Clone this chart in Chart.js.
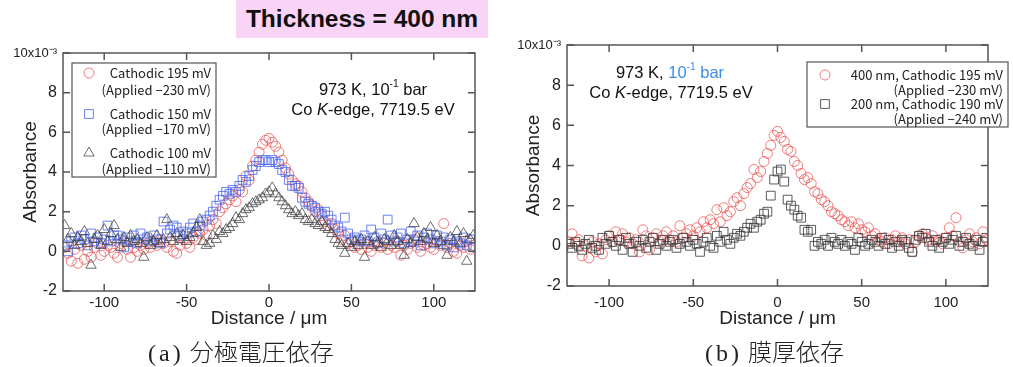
<!DOCTYPE html>
<html>
<head>
<meta charset="utf-8">
<script src="https://cdn.jsdelivr.net/npm/chart.js@4.4.1/dist/chart.umd.min.js"></script>
<style>
  body { margin: 0; background: #fff; width: 1013px; height: 367px; position: relative; overflow: hidden;
         font-family: 'Liberation Sans', Arial, sans-serif; }
  #title { position: absolute; left: 236px; top: 0; width: 252px; height: 38px; background: #fad4f6;
           font-weight: bold; font-size: 24.5px; line-height: 38px; text-align: center; color: #111; }
  .cap { position: absolute; top: 333px; font-family: 'Noto Sans CJK JP'; font-weight: 300; font-size: 24px;
         line-height: 36px; color: #222; white-space: nowrap; }
  .cap span { font-family: 'Liberation Serif', serif; letter-spacing: 3px; margin-right: 6px; }
  #ca { position: absolute; left: 0; top: 0; }
  #cb { position: absolute; left: 500px; top: 0; }
</style>
</head>
<body>
<div id="title">Thickness = 400 nm</div>
<canvas id="ca" width="500" height="367"></canvas>
<canvas id="cb" width="513" height="367"></canvas>
<div class="cap" style="left:148px"><span>(a)</span>分極電圧依存</div>
<div class="cap" style="left:705px"><span>(b)</span>膜厚依存</div>
<script>
// distance in µm (same for every series)
const distance = [
  -124,-122,-120,-118,-116,-114,-112,-110,-108,-106,
  -104,-102,-100,-98,-96,-94,-92,-90,-88,-86,
  -84,-82,-80,-78,-76,-74,-72,-70,-68,-66,
  -64,-62,-60,-58,-56,-54,-52,-50,-48,-46,
  -44,-42,-40,-38,-36,-34,-32,-30,-28,-26,
  -24,-22,-20,-18,-16,-14,-12,-10,-8,-6,
  -4,-2,0,2,4,6,8,10,12,14,
  16,18,20,22,24,26,28,30,32,34,
  36,38,40,42,44,46,48,50,52,54,
  56,58,60,62,64,66,68,70,72,74,
  76,78,80,82,84,86,88,90,92,94,
  96,98,100,102,104,106,108,110,112,114,
  116,118,120,122,124
];
const xTicks = [-100, -50, 0, 50, 100];
const yTicks = [-2, 0, 2, 4, 6, 8, 10];

// (a) absorbance x10^-3
const cath195 = [
  0.2,-0.1,-0.5,0.1,-0.6,0.3,-0.4,0.0,-0.3,0.2,
  0.4,-0.2,0.0,0.3,0.2,-0.1,-0.3,0.4,0.5,0.1,
  -0.3,0.2,0.0,0.3,0.1,0.4,0.2,0.5,0.3,0.6,
  0.4,0.2,0.5,0.0,-0.1,0.3,0.6,0.4,0.2,0.7,
  0.6,0.9,1.1,0.8,1.3,1.6,1.4,2.0,2.2,2.4,
  2.6,2.8,2.5,3.1,3.0,3.8,3.6,4.3,4.6,5.0,
  5.4,5.6,5.7,5.5,5.3,5.0,4.6,4.2,3.9,3.6,
  3.4,3.3,3.0,2.7,2.5,2.3,2.0,2.1,1.8,1.5,
  1.3,1.4,1.1,0.9,0.6,0.8,0.4,0.5,0.2,0.3,
  0.1,0.4,0.2,0.0,0.3,0.5,0.2,0.4,0.1,0.3,
  0.2,0.5,-0.2,0.3,0.1,0.4,0.6,0.2,0.0,0.3,
  0.4,0.2,0.1,0.5,0.3,1.4,0.2,0.4,0.0,-0.1,
  0.3,0.2,0.5,0.1,0.3
];
const cath150 = [
  0.3,0.0,0.5,0.7,0.4,0.8,0.6,0.3,0.9,0.5,
  0.7,0.4,0.6,1.3,0.5,0.8,0.8,0.6,0.2,0.7,
  0.5,0.8,0.4,0.9,0.6,0.7,0.5,0.8,0.6,0.4,
  1.5,0.9,1.1,1.3,1.2,0.8,1.0,0.9,1.2,1.4,
  1.0,1.3,1.5,1.6,1.8,2.0,2.3,2.6,2.8,3.0,
  2.9,3.1,3.0,3.3,3.6,3.5,3.8,4.1,4.3,4.5,
  4.6,4.6,4.5,4.6,4.5,4.4,4.1,4.0,3.6,3.3,
  3.3,3.2,2.7,2.5,2.4,2.3,2.2,2.0,1.9,2.0,
  1.8,1.6,1.3,1.2,1.0,1.7,0.9,0.6,0.7,0.5,
  0.6,0.8,0.5,1.1,0.7,0.4,0.9,0.6,1.6,0.8,
  0.5,0.7,0.9,0.4,0.6,1.0,0.5,0.8,0.3,0.7,
  0.9,0.6,0.4,0.8,0.5,0.7,0.3,0.6,0.2,0.5,
  0.4,0.7,0.3,0.6,0.2
];
const cath100 = [
  1.3,0.6,0.9,0.3,0.7,0.5,1.0,0.4,-0.7,0.6,
  0.8,0.3,1.1,0.5,0.9,1.3,0.6,0.2,0.7,0.4,
  0.8,0.5,0.6,0.4,-0.3,0.7,0.3,0.5,0.8,0.4,
  0.6,1.6,0.7,0.5,0.9,0.6,0.8,0.5,0.7,0.9,
  1.2,1.6,0.5,0.3,0.4,0.8,0.6,1.0,0.9,1.1,
  1.2,1.4,1.7,1.6,1.9,2.1,2.2,2.4,2.5,2.6,
  2.7,2.9,3.0,3.2,2.9,2.7,2.5,2.3,2.1,1.9,
  2.0,1.8,1.9,1.6,1.5,1.6,1.4,1.3,1.5,1.2,
  1.1,0.9,0.6,0.4,0.3,-0.1,0.4,0.2,0.5,0.3,
  0.6,-0.3,0.5,0.3,0.7,0.4,0.2,0.6,0.5,0.3,
  0.8,0.5,0.3,-0.2,0.6,0.4,1.4,0.7,0.5,0.9,
  0.6,1.2,0.4,0.8,0.5,0.3,-0.2,0.7,0.5,1.0,
  0.4,0.9,-0.5,0.6,0.8
];

// (b) absorbance x10^-3
const film400 = [
  0.2,0.6,0.1,0.3,-0.5,0.0,-0.6,0.2,-0.3,0.1,
  -0.4,0.3,0.5,0.2,0.7,0.3,0.6,0.2,0.4,0.1,
  0.3,-0.3,0.8,0.5,-0.2,0.4,0.6,0.2,0.5,0.7,
  0.3,0.5,0.2,1.0,0.4,0.6,0.8,0.5,0.9,0.7,
  1.2,0.9,1.3,1.1,1.8,1.2,1.9,1.5,1.7,2.2,
  2.4,2.0,2.6,2.9,3.1,3.8,3.4,3.7,4.2,4.6,
  5.0,5.5,5.7,5.4,5.2,4.8,4.7,4.2,4.0,3.6,
  3.3,3.4,3.1,2.7,2.6,2.3,2.2,2.0,1.7,1.6,
  1.5,1.3,1.2,1.0,1.2,0.9,1.1,0.8,0.7,0.9,
  0.5,0.6,0.3,0.2,0.4,0.1,0.3,0.5,0.2,0.4,
  0.1,0.3,-0.3,0.2,0.5,0.6,0.4,0.3,0.5,0.2,
  0.3,0.1,0.4,0.9,0.5,1.4,0.2,-0.1,0.3,0.6,
  0.2,0.4,0.1,0.7,0.3
];
const film200 = [
  0.1,-0.1,0.2,0.0,-0.2,0.1,0.3,-0.1,0.0,-0.2,
  0.4,0.1,0.5,0.2,0.0,0.3,-0.2,0.4,0.1,-0.3,
  0.2,0.0,0.3,-0.1,0.2,0.4,-0.2,0.1,0.3,0.0,
  0.2,0.3,-0.1,0.1,0.4,0.2,0.0,0.3,0.1,-0.3,
  0.2,0.4,0.0,-0.1,0.5,0.2,0.7,0.3,0.1,0.4,
  0.6,0.5,0.7,0.9,1.1,0.9,1.2,1.3,1.6,1.7,
  2.5,3.3,3.7,3.8,3.2,2.3,2.0,1.8,1.5,1.4,
  0.8,0.7,0.8,0.0,0.2,0.1,0.3,0.0,0.4,0.2,
  0.1,0.3,0.0,0.2,0.1,-0.2,0.4,0.2,0.0,0.1,
  0.3,0.2,0.0,0.4,0.1,0.3,-0.1,0.2,0.0,0.3,
  0.2,-0.1,-0.3,0.3,0.5,0.4,0.6,0.2,0.0,0.3,
  -0.1,0.2,0.4,0.1,0.3,0.5,0.0,0.2,0.4,0.1,
  0.0,0.3,-0.2,0.2,0.4
];

Chart.defaults.font.family = "'Liberation Sans', Arial, sans-serif";
Chart.defaults.color = '#222';

function points(vals) {
  return distance.map((x, i) => ({ x: x, y: vals[i] }));
}

function drawMarker(ctx, style, r, x, y, color) {
  ctx.save();
  ctx.strokeStyle = color;
  ctx.lineWidth = 1;
  ctx.beginPath();
  if (style === 'circle') {
    ctx.arc(x, y, r, 0, Math.PI * 2);
  } else if (style === 'rect') {
    const s = r * Math.SQRT1_2;
    ctx.rect(x - s, y - s, 2 * s, 2 * s);
  } else {
    ctx.moveTo(x, y - r);
    ctx.lineTo(x + r * 0.866, y + r * 0.5);
    ctx.lineTo(x - r * 0.866, y + r * 0.5);
    ctx.closePath();
  }
  ctx.stroke();
  ctx.restore();
}

// frame + inward ticks on all four sides
const framePlugin = {
  id: 'frame',
  afterDatasetsDraw(chart) {
    const a = chart.chartArea, ctx = chart.ctx;
    const xs = chart.scales.x, ys = chart.scales.y;
    ctx.save();
    ctx.strokeStyle = '#555';
    ctx.lineWidth = 1.5;
    ctx.strokeRect(a.left, a.top, a.right - a.left, a.bottom - a.top);
    ctx.beginPath();
    xTicks.forEach(v => {
      const px = xs.getPixelForValue(v);
      ctx.moveTo(px, a.bottom); ctx.lineTo(px, a.bottom - 7);
      ctx.moveTo(px, a.top); ctx.lineTo(px, a.top + 7);
    });
    yTicks.forEach(v => {
      const py = ys.getPixelForValue(v);
      ctx.moveTo(a.left, py); ctx.lineTo(a.left + 7, py);
      ctx.moveTo(a.right, py); ctx.lineTo(a.right - 7, py);
    });
    ctx.stroke();
    ctx.restore();
  }
};

function drawRuns(ctx, cx, cy, runs, size) {
  const fontOf = r => (r.italic ? 'italic ' : '') + (r.sup ? size * 0.62 : size) + "px 'Liberation Sans', Arial";
  let total = 0;
  runs.forEach(r => { ctx.font = fontOf(r); total += ctx.measureText(r.t).width; });
  let x = cx - total / 2;
  runs.forEach(r => {
    ctx.font = fontOf(r);
    ctx.fillStyle = r.color || '#111';
    ctx.fillText(r.t, x, r.sup ? cy - size * 0.38 : cy);
    x += ctx.measureText(r.t).width;
  });
}

// legend box and condition notes
const notePlugin = {
  id: 'notes',
  afterDraw(chart, args, o) {
    const a = chart.chartArea, ctx = chart.ctx;
    ctx.save();
    ctx.textBaseline = 'middle';
    ctx.textAlign = 'left';
    o.lines.forEach(l => drawRuns(ctx, a.left + l.x, a.top + l.y, l.runs, o.size));
    const b = o.box;
    ctx.fillStyle = '#fff';
    ctx.fillRect(a.left + b.x, a.top + b.y, b.w, b.h);
    ctx.strokeStyle = '#555';
    ctx.lineWidth = 1.2;
    ctx.strokeRect(a.left + b.x, a.top + b.y, b.w, b.h);
    ctx.font = "13px 'Noto Sans CJK JP'";
    ctx.textAlign = 'right';
    ctx.fillStyle = '#222';
    b.rows.forEach(r => {
      ctx.fillText(r.text, a.left + b.textX, a.top + r.y);
      if (r.ds != null) {
        const ds = chart.data.datasets[r.ds];
        drawMarker(ctx, ds.pointStyle, ds.pointRadius, a.left + b.markX, a.top + r.y, ds.borderColor);
      }
    });
    ctx.restore();
  }
};

function makeChart(id, datasets, lay, notes) {
  return new Chart(document.getElementById(id), {
    type: 'scatter',
    data: { datasets: datasets },
    options: {
      responsive: false,
      animation: false,
      devicePixelRatio: 1,
      layout: { padding: { left: 0, top: lay.top, right: lay.right, bottom: lay.bottom } },
      plugins: { legend: { display: false }, tooltip: { enabled: false }, notes: notes },
      scales: {
        x: {
          type: 'linear', min: -125, max: 125,
          afterBuildTicks: s => { s.ticks = xTicks.map(v => ({ value: v })); },
          afterFit: s => { s.height = lay.xh; },
          grid: { display: false, drawTicks: false },
          border: { display: false },
          ticks: { padding: lay.xpad, color: '#222', font: { size: 15 } },
          title: { display: true, text: 'Distance / μm', color: '#222', font: { size: 19 }, padding: { top: 0, bottom: 0 } }
        },
        y: {
          type: 'linear', min: -2, max: 10,
          afterBuildTicks: s => { s.ticks = yTicks.map(v => ({ value: v })); },
          afterFit: s => { s.width = lay.yw; },
          grid: { display: false, drawTicks: false },
          border: { display: false },
          ticks: {
            padding: 6, color: '#222',
            font: c => ({ size: c.tick && c.tick.value === 10 ? 13 : 16 }),
            callback: v => v === 10 ? '10x10⁻³' : v
          },
          title: { display: true, text: 'Absorbance', color: '#222', font: { size: 19 }, padding: { top: lay.ytp, bottom: 0 } }
        }
      }
    },
    plugins: [framePlugin, notePlugin]
  });
}

const red = 'rgba(236,80,80,0.75)';

makeChart('ca', [
  { label: 'Cathodic 100 mV', data: points(cath100), pointStyle: 'triangle', pointRadius: 6,
    borderColor: 'rgba(60,60,60,0.75)', backgroundColor: 'transparent', borderWidth: 1 },
  { label: 'Cathodic 150 mV', data: points(cath150), pointStyle: 'rect', pointRadius: 6.2,
    borderColor: 'rgba(70,100,235,0.8)', backgroundColor: 'transparent', borderWidth: 1 },
  { label: 'Cathodic 195 mV', data: points(cath195), pointStyle: 'circle', pointRadius: 5,
    borderColor: red, backgroundColor: 'transparent', borderWidth: 1 }
], { top: 53, right: 25, bottom: 37, xh: 39, yw: 63, xpad: 3, ytp: 19 }, {
  size: 16.5,
  lines: [
    { x: 310, y: 37, runs: [{ t: '973 K, 10' }, { t: '-1', sup: true }, { t: ' bar' }] },
    { x: 310, y: 57, runs: [{ t: 'Co ' }, { t: 'K', italic: true }, { t: '-edge, 7719.5 eV' }] }
  ],
  box: {
    x: 9, y: 10, w: 144, h: 114, textX: 148, markX: 26,
    rows: [
      { text: 'Cathodic 195 mV', y: 20, ds: 2 },
      { text: '(Applied −230 mV)', y: 37 },
      { text: 'Cathodic 150 mV', y: 61, ds: 1 },
      { text: '(Applied −170 mV)', y: 76 },
      { text: 'Cathodic 100 mV', y: 100, ds: 0 },
      { text: '(Applied −110 mV)', y: 116 }
    ]
  }
});

makeChart('cb', [
  { label: '200 nm, Cathodic 190 mV', data: points(film200), pointStyle: 'rect', pointRadius: 6.2,
    borderColor: 'rgba(50,50,50,0.8)', backgroundColor: 'transparent', borderWidth: 1 },
  { label: '400 nm, Cathodic 195 mV', data: points(film400), pointStyle: 'circle', pointRadius: 5,
    borderColor: red, backgroundColor: 'transparent', borderWidth: 1 }
], { top: 45, right: 25, bottom: 37, xh: 44, yw: 67, xpad: 8, ytp: 22 }, {
  size: 16.5,
  lines: [
    { x: 103, y: 28, runs: [{ t: '973 K, ' }, { t: '10', color: '#3a8ee6' }, { t: '-1', sup: true, color: '#3a8ee6' }, { t: ' bar', color: '#3a8ee6' }] },
    { x: 104, y: 48, runs: [{ t: 'Co ' }, { t: 'K', italic: true }, { t: '-edge, 7719.5 eV' }] }
  ],
  box: {
    x: 240, y: 17, w: 201, h: 65, textX: 436, markX: 258,
    rows: [
      { text: '400 nm, Cathodic 195 mV', y: 30, ds: 1 },
      { text: '(Applied −230 mV)', y: 45 },
      { text: '200 nm, Cathodic 190 mV', y: 59, ds: 0 },
      { text: '(Applied −240 mV)', y: 74 }
    ]
  }
});
</script>
</body>
</html>
